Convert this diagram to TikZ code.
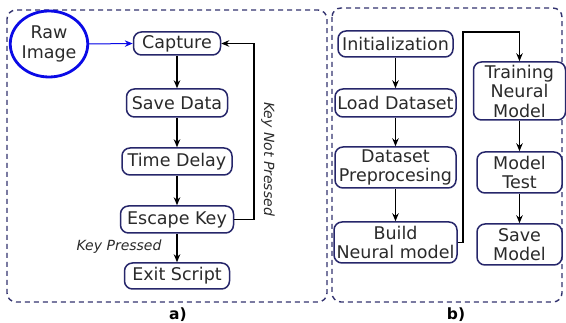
\documentclass[tikz,border=0pt]{standalone}
\usepackage{fontspec}
\setmainfont{DejaVu Sans}
\usetikzlibrary{arrows.meta,shapes.geometric}
\definecolor{navy}{HTML}{26266A}
\definecolor{frame}{HTML}{33336F}
\definecolor{ink}{HTML}{2A2A2A}
\definecolor{rawblue}{HTML}{0A0AE6}
\begin{document}
\begin{tikzpicture}[x=1pt,y=-1pt,
  proc/.style={draw=navy,line width=1.5pt,rounded corners=8pt,fill=white,
    inner sep=0pt,align=center,text=ink,font=\fontsize{17.5}{19.5}\selectfont},
  flow/.style={line width=1.2pt,-{Stealth[length=8pt,width=6.5pt]}},
  panel/.style={draw=frame,line width=1.4pt,dash pattern=on 5pt off 4pt,rounded corners=9pt},
  note/.style={text=ink,font=\fontsize{14}{16}\selectfont\itshape},
  tag/.style={text=black,font=\fontsize{15.5}{18}\selectfont\bfseries}]
\useasboundingbox (0,0) rectangle (566,323);

% panel frames
\draw[panel] (7,10) rectangle (327,302);
\draw[panel] (332,8) rectangle (562,302);
\node[tag] (ta) at (178,315) {a)};
\node[tag] (tb) at (456,315) {b)};

% a) capture loop
\node[draw=rawblue,line width=2.8pt,ellipse,minimum width=76pt,minimum height=66pt,
  inner sep=0pt,align=center,text=ink,font=\fontsize{17.5}{19.5}\selectfont] (raw) at (49,44) {Raw\\Image};
\node[proc,minimum width=87pt,minimum height=23pt] (cap) at (177,43.5) {Capture};
\node[proc,minimum width=101pt,minimum height=28pt] (sav) at (177,103) {Save Data};
\node[proc,minimum width=110pt,minimum height=27pt] (dly) at (177,161.5) {Time Delay};
\node[proc,minimum width=113pt,minimum height=27pt] (esc) at (177,219.5) {Escape Key};
\node[proc,minimum width=105pt,minimum height=26pt] (ext) at (177,276) {Exit Script};

\draw[flow,draw=rawblue,fill=rawblue,line width=1pt] (raw.east) -- (cap.west);
\draw[flow] (cap) -- (sav);
\draw[flow] (sav) -- (dly);
\draw[flow] (dly) -- (esc);
\draw[flow] (esc) -- (ext);
\coordinate (loop) at (254,219.5);
\draw[flow] (esc.east) -- (loop) |- (cap.east);
\node[note,rotate=-90] (knp) at (268,159) {Key Not Pressed};
\node[note] (kp) at (119,247) {Key Pressed};

% b) training pipeline
\node[proc,minimum width=115pt,minimum height=26pt] (ini) at (395.5,44) {Initialization};
\node[proc,minimum width=121pt,minimum height=28pt] (lod) at (395.5,103) {Load Dataset};
\node[proc,minimum width=121pt,minimum height=41pt] (pre) at (395.5,167.5) {Dataset\\Preprocesing};
\node[proc,minimum width=123pt,minimum height=41pt] (bld) at (395.5,242.5) {Build\\Neural model};
\node[proc,minimum width=92pt,minimum height=58pt] (trn) at (519.5,91) {Training\\Neural\\Model};
\node[proc,minimum width=85pt,minimum height=41pt] (tst) at (519.5,172.5) {Model\\Test};
\node[proc,minimum width=85pt,minimum height=41pt] (svm) at (519.5,244.5) {Save\\Model};

\draw[flow] (ini) -- (lod);
\draw[flow] (lod) -- (pre);
\draw[flow] (pre) -- (bld);
\coordinate (hop) at (463,32);
\draw[flow] (bld.east) -| (hop) -| (trn.north);
\draw[flow] (trn) -- (tst);
\draw[flow] (tst) -- (svm);
\end{tikzpicture}
\end{document}
